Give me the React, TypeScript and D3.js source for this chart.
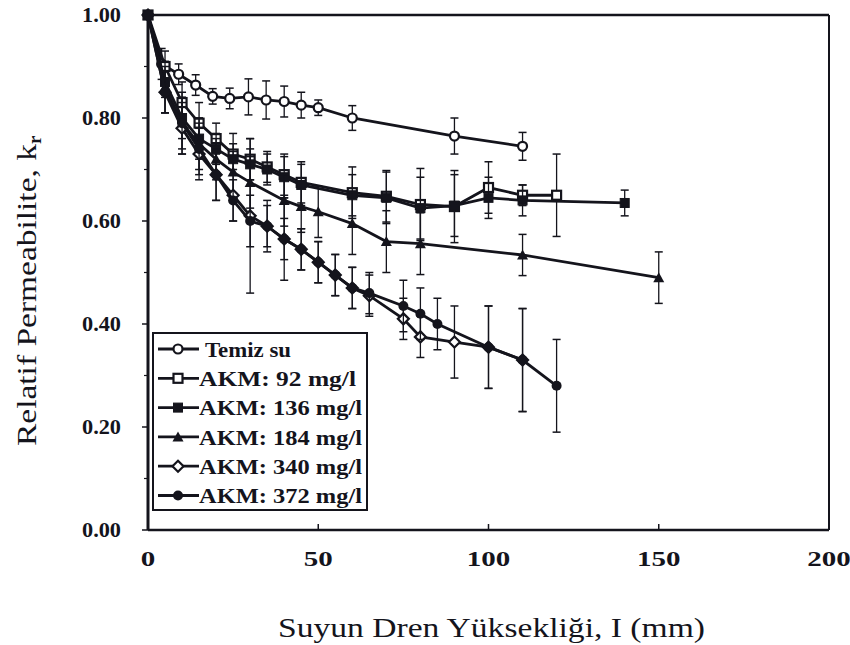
import React from "react";
import * as d3 from "d3";

const seriesNames = ["Temiz su", "AKM: 92 mg/l", "AKM: 136 mg/l", "AKM: 184 mg/l", "AKM: 340 mg/l", "AKM: 372 mg/l"];
const markers = ["openCircle", "openSquare", "filledSquare", "filledTriangle", "openDiamond", "filledCircle"];

const temizX = [0, 4, 9, 14, 19, 24, 29.5, 34.7, 40, 45, 50, 60, 90, 110];
const temizY = [1.0, 0.905, 0.885, 0.864, 0.842, 0.838, 0.841, 0.835, 0.832, 0.825, 0.82, 0.80, 0.765, 0.745];
const temizE = [0, 0.03, 0.02, 0.02, 0.015, 0.02, 0.035, 0.037, 0.03, 0.025, 0.015, 0.024, 0.035, 0.027];

const akm92X = [0, 5, 10, 15, 20, 25, 30, 35, 40, 45, 60, 70, 80, 90, 100, 110, 120];
const akm92Y = [1.0, 0.90, 0.83, 0.79, 0.76, 0.73, 0.72, 0.705, 0.69, 0.675, 0.655, 0.648, 0.632, 0.628, 0.665, 0.65, 0.65];
const akm92E = [0, 0.03, 0.04, 0.04, 0.03, 0.04, 0.04, 0.03, 0.04, 0.04, 0.05, 0.05, 0.07, 0.07, 0.05, 0.02, 0.08];

const akm136X = [0, 5, 10, 15, 20, 25, 30, 35, 40, 45, 60, 70, 80, 90, 100, 110, 140];
const akm136Y = [1.0, 0.87, 0.80, 0.76, 0.74, 0.72, 0.71, 0.70, 0.685, 0.67, 0.65, 0.645, 0.625, 0.63, 0.645, 0.64, 0.635];
const akm136E = [0, 0.03, 0.04, 0.04, 0.03, 0.03, 0.03, 0.03, 0.04, 0.04, 0.04, 0.05, 0.06, 0.06, 0.04, 0.03, 0.025];

const akm184X = [0, 5, 10, 15, 20, 25, 30, 40, 45, 50, 60, 70, 80, 110, 150];
const akm184Y = [1.0, 0.86, 0.79, 0.75, 0.72, 0.695, 0.675, 0.64, 0.628, 0.618, 0.595, 0.56, 0.556, 0.534, 0.49];
const akm184E = [0, 0.05, 0.06, 0.05, 0.04, 0.04, 0.05, 0.05, 0.05, 0.05, 0.06, 0.06, 0.06, 0.04, 0.05];

const akm340X = [0, 5, 10, 15, 20, 25, 30, 35, 40, 45, 50, 55, 60, 65, 75, 80, 90, 100, 110];
const akm340Y = [1.0, 0.85, 0.78, 0.73, 0.69, 0.65, 0.61, 0.59, 0.565, 0.545, 0.52, 0.495, 0.47, 0.455, 0.41, 0.375, 0.365, 0.355, 0.33];
const akm340E = [0, 0.04, 0.05, 0.05, 0.05, 0.05, 0.15, 0.05, 0.08, 0.04, 0.04, 0.04, 0.04, 0.04, 0.04, 0.04, 0.07, 0.08, 0.1];

const akm372X = [0, 5, 10, 15, 20, 25, 30, 35, 40, 45, 50, 55, 60, 65, 75, 80, 85, 100, 110, 120];
const akm372Y = [1.0, 0.85, 0.79, 0.74, 0.69, 0.64, 0.60, 0.59, 0.565, 0.545, 0.52, 0.495, 0.47, 0.46, 0.435, 0.42, 0.40, 0.355, 0.33, 0.28];
const akm372E = [0, 0.04, 0.05, 0.05, 0.05, 0.04, 0.05, 0.04, 0.04, 0.04, 0.04, 0.04, 0.04, 0.04, 0.05, 0.05, 0.05, 0.08, 0.1, 0.09];

const xTicks = [0, 50, 100, 150, 200];
const yTicks = [0, 0.2, 0.4, 0.6, 0.8, 1.0];
const yMinor = [0.1, 0.3, 0.5, 0.7, 0.9];

const allX = [temizX, akm92X, akm136X, akm184X, akm340X, akm372X];
const allY = [temizY, akm92Y, akm136Y, akm184Y, akm340Y, akm372Y];
const allE = [temizE, akm92E, akm136E, akm184E, akm340E, akm372E];

const INK = "#14141c";

function Marker({ type, x, y }: { type: string; x: number; y: number }) {
  const r = 4.5;
  switch (type) {
    case "openCircle":
      return <circle cx={x} cy={y} r={r} fill="#fff" stroke={INK} strokeWidth={2.2} />;
    case "openSquare":
      return <rect x={x - r} y={y - r} width={2 * r} height={2 * r} fill="#fff" stroke={INK} strokeWidth={2.2} />;
    case "filledSquare":
      return <rect x={x - r} y={y - r} width={2 * r} height={2 * r} fill={INK} stroke={INK} strokeWidth={1} />;
    case "filledTriangle":
      return <path d={`M${x},${y - r - 1}L${x + r + 1},${y + r}L${x - r - 1},${y + r}Z`} fill={INK} />;
    case "openDiamond":
      return <path d={`M${x},${y - r - 1}L${x + r + 1},${y}L${x},${y + r + 1}L${x - r - 1},${y}Z`} fill="#fff" stroke={INK} strokeWidth={2.2} />;
    default:
      return <circle cx={x} cy={y} r={r + 0.5} fill={INK} />;
  }
}

const legendWidths = [86, 157, 163, 163, 163, 163];

export default function App() {
  const W = 850, H = 645;
  const x = d3.scaleLinear().domain([0, 200]).range([148, 829]);
  const y = d3.scaleLinear().domain([0, 1]).range([530, 15]);
  const line = d3.line<[number, number]>().x(d => x(d[0])).y(d => y(d[1]));
  const serifStyle = { fontFamily: '"Liberation Serif", serif' };

  return (
    <svg width={W} height={H} style={{ position: "absolute", left: 0, top: 0, background: "#fff" }}>
      <rect x={0} y={0} width={W} height={H} fill="#fff" />
      {/* frame */}
      <line x1={x(0)} x2={x(200)} y1={y(1)} y2={y(1)} stroke={INK} strokeWidth={2.5} />
      <line x1={x(200)} x2={x(200)} y1={y(1)} y2={y(0)} stroke={INK} strokeWidth={2} />
      <line x1={x(0)} x2={x(200)} y1={y(0)} y2={y(0)} stroke={INK} strokeWidth={2.5} />
      <line x1={x(0)} x2={x(0)} y1={y(1)} y2={y(0)} stroke={INK} strokeWidth={3} />
      {yTicks.map(t => (
        <g key={"yt" + t}>
          <line x1={x(0) - 6} x2={x(0)} y1={y(t)} y2={y(t)} stroke={INK} strokeWidth={1.5} />
          <text x={121} y={y(t)} dy="0.35em" textAnchor="end" style={serifStyle} fontWeight="bold" fontSize={21}
            textLength={39} lengthAdjust="spacingAndGlyphs" fill={INK}>
            {d3.format(".2f")(t)}
          </text>
        </g>
      ))}
      {yMinor.map(t => (
        <line key={"ym" + t} x1={x(0) - 4} x2={x(0)} y1={y(t)} y2={y(t)} stroke={INK} strokeWidth={1.2} />
      ))}
      {xTicks.map(t => (
        <g key={"xt" + t}>
          <line x1={x(t)} x2={x(t)} y1={y(0)} y2={y(0) - 6} stroke={INK} strokeWidth={1.5} />
          <text x={x(t)} y={566} textAnchor="middle" style={serifStyle} fontWeight="bold" fontSize={22}
            textLength={String(t).length * 14.5} lengthAdjust="spacingAndGlyphs" fill={INK}>
            {t}
          </text>
        </g>
      ))}
      <text x={278} y={637} style={serifStyle} fontSize={28} textLength={427} lengthAdjust="spacingAndGlyphs" fill={INK}>
        Suyun Dren Yüksekliği, I (mm)
      </text>
      <text transform="translate(36,446) rotate(-90)" style={serifStyle} fontSize={27} fill={INK}>
        <tspan textLength={302} lengthAdjust="spacingAndGlyphs">Relatif Permeabilite, k</tspan>
        <tspan fontSize={19} dy={5} fontWeight="bold">r</tspan>
      </text>
      {/* series */}
      {allX.map((xs, si) => {
        const pts = xs.map((v, i) => [v, allY[si][i]] as [number, number]);
        return (
          <g key={"s" + si}>
            {pts.map((p, i) => {
              const e = allE[si][i];
              if (!e) return null;
              return (
                <g key={"e" + i}>
                  <line x1={x(p[0])} x2={x(p[0])} y1={y(p[1] + e)} y2={y(p[1] - e)} stroke={INK} strokeWidth={1.3} />
                  <line x1={x(p[0]) - 4} x2={x(p[0]) + 4} y1={y(p[1] + e)} y2={y(p[1] + e)} stroke={INK} strokeWidth={1.5} />
                  <line x1={x(p[0]) - 4} x2={x(p[0]) + 4} y1={y(p[1] - e)} y2={y(p[1] - e)} stroke={INK} strokeWidth={1.5} />
                </g>
              );
            })}
            <path d={line(pts) || ""} fill="none" stroke={INK} strokeWidth={2.8} />
            {pts.map((p, i) => (
              <Marker key={"m" + i} type={markers[si]} x={x(p[0])} y={y(p[1])} />
            ))}
          </g>
        );
      })}
      {/* legend */}
      <g>
        <rect x={153} y={333} width={214} height={177} fill="#fff" stroke={INK} strokeWidth={2} />
        {seriesNames.map((n, i) => {
          const ly = 349 + i * 29.3;
          return (
            <g key={"l" + i}>
              <line x1={158} x2={199} y1={ly} y2={ly} stroke={INK} strokeWidth={2.8} />
              <Marker type={markers[i]} x={178} y={ly} />
              <text x={i === 0 ? 205 : 199} y={ly} dy="0.35em" style={serifStyle} fontWeight="bold" fontSize={22}
                textLength={legendWidths[i]} lengthAdjust="spacingAndGlyphs" fill={INK}>
                {n}
              </text>
            </g>
          );
        })}
      </g>
    </svg>
  );
}
